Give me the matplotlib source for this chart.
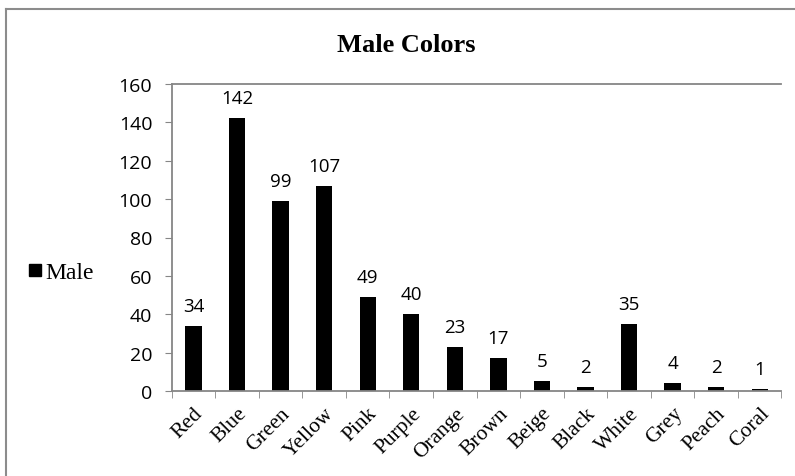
import matplotlib.pyplot as plt
from matplotlib.lines import Line2D
import numpy as np

# data
colors = ['Red', 'Blue', 'Green', 'Yellow', 'Pink', 'Purple', 'Orange',
          'Brown', 'Beige', 'Black', 'White', 'Grey', 'Peach', 'Coral']
male = [34, 142, 99, 107, 49, 40, 23, 17, 5, 2, 35, 4, 2, 1]

serif = 'Liberation Serif'
sans = 'Open Sans'
axis_grey = '#868686'

fig = plt.figure(figsize=(7.95, 4.77), dpi=100)
ax = fig.add_axes([0.216, 0.178, 0.767, 0.644])

x = np.arange(len(colors))
bars = ax.bar(x, male, width=0.375, color='black', label='Male')

for xi, v in zip(x, male):
    ax.annotate(str(v), (xi, v), xytext=(0, 8), textcoords='offset points',
                ha='center', va='bottom', fontsize=13.5, family=sans)

ax.set_xlim(-0.5, len(colors) - 0.5)
ax.set_ylim(0, 160)
ax.set_yticks(range(0, 161, 20))
ax.tick_params(axis='y', length=5, color=axis_grey, labelsize=14, pad=9)
for lbl in ax.get_yticklabels():
    lbl.set_family(sans)

# category labels in the middle, tick marks on the boundaries
ax.set_xticks(x)
ax.set_xticklabels(colors, rotation=45, ha='right', rotation_mode='anchor',
                   family=serif, fontsize=15.5)
ax.tick_params(axis='x', which='major', length=0, pad=9)
ax.set_xticks(np.arange(-0.5, len(colors), 1), minor=True)
ax.tick_params(axis='x', which='minor', length=5, color=axis_grey)

for side in ['left', 'bottom', 'top']:
    ax.spines[side].set_color(axis_grey)
    ax.spines[side].set_linewidth(1.3)
ax.spines['right'].set_visible(False)

fig.text(0.511, 0.905, 'Male Colors', ha='center', va='center',
         family=serif, fontweight='bold', fontsize=19)

handle = Line2D([], [], marker='s', color='black', linestyle='none', markersize=9)
fig.legend([handle], ['Male'], loc='center left', bbox_to_anchor=(0.003, 0.427),
           frameon=False, handletextpad=-0.1, handlelength=1.0,
           prop={'family': serif, 'size': 17})

# outer chart border (only left and top visible in the crop)
fig.add_artist(Line2D([6 / 795, 6 / 795], [0, 1 - 10 / 477], transform=fig.transFigure,
                      color='#8c8c8c', linewidth=1.5))
fig.add_artist(Line2D([6 / 795, 1], [1 - 10 / 477, 1 - 10 / 477], transform=fig.transFigure,
                      color='#8c8c8c', linewidth=1.5))

fig.savefig('out.png', dpi=100)
